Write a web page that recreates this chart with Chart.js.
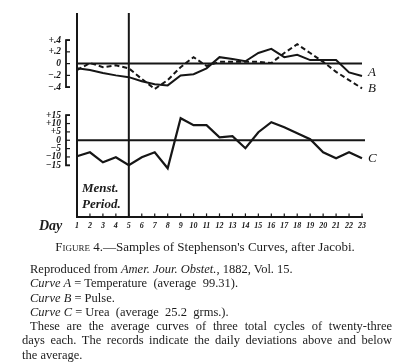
<!DOCTYPE html>
<html>
<head>
<meta charset="utf-8">
<script src="https://cdn.jsdelivr.net/npm/chart.js@4.4.0/dist/chart.umd.min.js"></script>
<style>
  body { margin: 0; background: #fff; width: 400px; height: 364px; overflow: hidden; position: relative;
         font-family: "Liberation Serif", serif; color: #1c1c1c; }
  #wrap { position: absolute; left: 0; top: 0; width: 400px; height: 240px; }
  .hand { position: absolute; font-style: italic; font-weight: bold; font-family: "Liberation Serif", serif; }
  .caption { position: absolute; top: 239px; left: 0; width: 410px; text-align: center; font-size: 13px; }
  .sc { font-variant: small-caps; }
  .notes { position: absolute; top: 262px; left: 22px; width: 370px; font-size: 12.5px; line-height: 14.3px; }
  .notes div { white-space: nowrap; }
  .notes .ind { padding-left: 8px; }
  .notes .just { text-align: justify; text-align-last: justify; white-space: normal; }
</style>
</head>
<body>
<div id="wrap"><canvas id="chart"></canvas></div>
<div class="hand" style="left:82px;top:180px;font-size:13px;line-height:16px;">Menst.<br>Period.</div>
<div class="hand" style="left:39px;top:218px;font-size:14px;">Day</div>
<div class="caption"><span class="sc">Figure</span> 4.—Samples of Stephenson's Curves, after Jacobi.</div>
<div class="notes">
  <div class="ind">Reproduced from <i>Amer. Jour. Obstet.</i>, 1882, Vol. 15.</div>
  <div class="ind"><i>Curve A</i> = Temperature &nbsp;(average &nbsp;99.31).</div>
  <div class="ind"><i>Curve B</i> = Pulse.</div>
  <div class="ind"><i>Curve C</i> = Urea &nbsp;(average &nbsp;25.2 &nbsp;grms.).</div>
  <div class="ind just">These are the average curves of three total cycles of twenty-three</div>
  <div class="just">days each. The records indicate the daily deviations above and below</div>
  <div>the average.</div>
</div>
<script>
// Day of cycle
const days = ['1','2','3','4','5','6','7','8','9','10','11','12','13','14','15','16','17','18','19','20','21','22','23'];
// Curve A: temperature deviation (deg F)
const tempDev = [-0.08,-0.11,-0.16,-0.2,-0.23,-0.3,-0.35,-0.37,-0.2,-0.18,-0.08,0.11,0.08,0.04,0.18,0.25,0.11,0.15,0.06,0.06,0.06,-0.15,-0.21];
// Curve B: pulse deviation (same scale as A)
const pulseDev = [-0.11,0.01,-0.06,-0.03,-0.08,-0.26,-0.43,-0.28,-0.06,0.11,-0.04,0.03,0.03,0.03,0.03,0.01,0.18,0.33,0.18,0.03,-0.14,-0.28,-0.42];
// Curve C: urea deviation
const ureaDev = [-9.6,-7.2,-13.2,-10.2,-15,-10.2,-7.2,-16.8,13.2,9,9,1.8,2.4,-4.8,4.8,10.8,7.8,4.2,0.6,-7.2,-10.8,-7.2,-10.8];

const abTicks = [0.4, 0.2, 0, -0.2, -0.4];
const abTickLabels = ['+.4', '+.2', '0', '\u2212.2', '\u2212.4'];
const cTicks = [15, 10, 5, 0, -5, -10, -15];
const cTickLabels = ['+15', '+10', '+5', '0', '\u22125', '\u221210', '\u221215'];
const curveNames = ['A', 'B', 'C'];
const mensesEnd = 4; // index of day 5

const ink = '#161616';

const figurePlugin = {
  id: 'figure',
  afterDatasetsDraw(chart) {
    const { ctx, chartArea, scales } = chart;
    const x = scales.x, yAB = scales.yAB, yC = scales.yC;
    const x0 = x.getPixelForValue(0);
    const xEnd = x.getPixelForValue(days.length - 1);
    ctx.save();
    ctx.strokeStyle = ink;
    ctx.fillStyle = ink;
    ctx.lineWidth = 2;
    ctx.setLineDash([]);

    // vertical lines: left edge and end of menstruation
    [0, mensesEnd].forEach(i => {
      const px = x.getPixelForValue(i);
      ctx.beginPath();
      ctx.moveTo(px, chartArea.top);
      ctx.lineTo(px, chartArea.bottom);
      ctx.stroke();
    });

    // zero lines
    [[yAB, xEnd], [yC, xEnd + 3]].forEach(([s, xe]) => {
      const py = s.getPixelForValue(0);
      ctx.beginPath();
      ctx.moveTo(x0, py);
      ctx.lineTo(xe, py);
      ctx.stroke();
    });

    // day ticks, pointing up
    ctx.lineWidth = 1.2;
    days.forEach((d, i) => {
      const px = x.getPixelForValue(i);
      ctx.beginPath();
      ctx.moveTo(px, chartArea.bottom);
      ctx.lineTo(px, chartArea.bottom - 4);
      ctx.stroke();
    });

    // y brackets with labels
    const bx = 66;
    ctx.font = 'italic bold 9.5px "Liberation Serif"';
    ctx.textAlign = 'right';
    ctx.textBaseline = 'middle';
    [[yAB, abTicks, abTickLabels], [yC, cTicks, cTickLabels]].forEach(([s, vals, labs]) => {
      const top = s.getPixelForValue(vals[0]);
      const bot = s.getPixelForValue(vals[vals.length - 1]);
      ctx.lineWidth = 1.8;
      ctx.beginPath();
      ctx.moveTo(bx + 4, top);
      ctx.lineTo(bx, top);
      ctx.lineTo(bx, bot);
      ctx.lineTo(bx + 4, bot);
      ctx.stroke();
      ctx.lineWidth = 1.2;
      vals.forEach((v, i) => {
        const py = s.getPixelForValue(v);
        ctx.beginPath();
        ctx.moveTo(bx, py);
        ctx.lineTo(bx + 4, py);
        ctx.stroke();
        ctx.fillText(labs[i], bx - 5, py);
      });
    });

    // curve letters
    ctx.font = 'italic 13px "Liberation Serif"';
    ctx.textAlign = 'left';
    chart.data.datasets.forEach((ds, i) => {
      const meta = chart.getDatasetMeta(i);
      const last = meta.data[meta.data.length - 1];
      const dy = i === 0 ? -3 : 0;
      ctx.fillText(curveNames[i], last.x + 6, last.y + dy);
    });
    ctx.restore();
  }
};

new Chart(document.getElementById('chart'), {
  type: 'line',
  data: {
    labels: days,
    datasets: [
      { label: 'A', data: tempDev, yAxisID: 'yAB', borderColor: ink, borderWidth: 2, pointRadius: 0, tension: 0 },
      { label: 'B', data: pulseDev, yAxisID: 'yAB', borderColor: ink, borderWidth: 2, borderDash: [5, 3], pointRadius: 0, tension: 0 },
      { label: 'C', data: ureaDev, yAxisID: 'yC', borderColor: ink, borderWidth: 2.2, pointRadius: 0, tension: 0 },
    ],
  },
  options: {
    responsive: true,
    maintainAspectRatio: false,
    animation: false,
    layout: { padding: { left: 77, right: 38, top: 13, bottom: 5 } },
    plugins: { legend: { display: false }, tooltip: { enabled: false } },
    scales: {
      x: {
        offset: false,
        grid: { display: false, drawTicks: false },
        border: { display: true, color: ink, width: 2 },
        ticks: { color: ink, font: { family: 'Liberation Serif', style: 'italic', weight: 'bold', size: 8 },
                 padding: 4, maxRotation: 0, autoSkip: false },
      },
      yAB: { display: false, min: -2.613, max: 0.86 },
      yC: { display: false, min: -46.2, max: 76.2 },
    },
  },
  plugins: [figurePlugin],
});
</script>
</body>
</html>
